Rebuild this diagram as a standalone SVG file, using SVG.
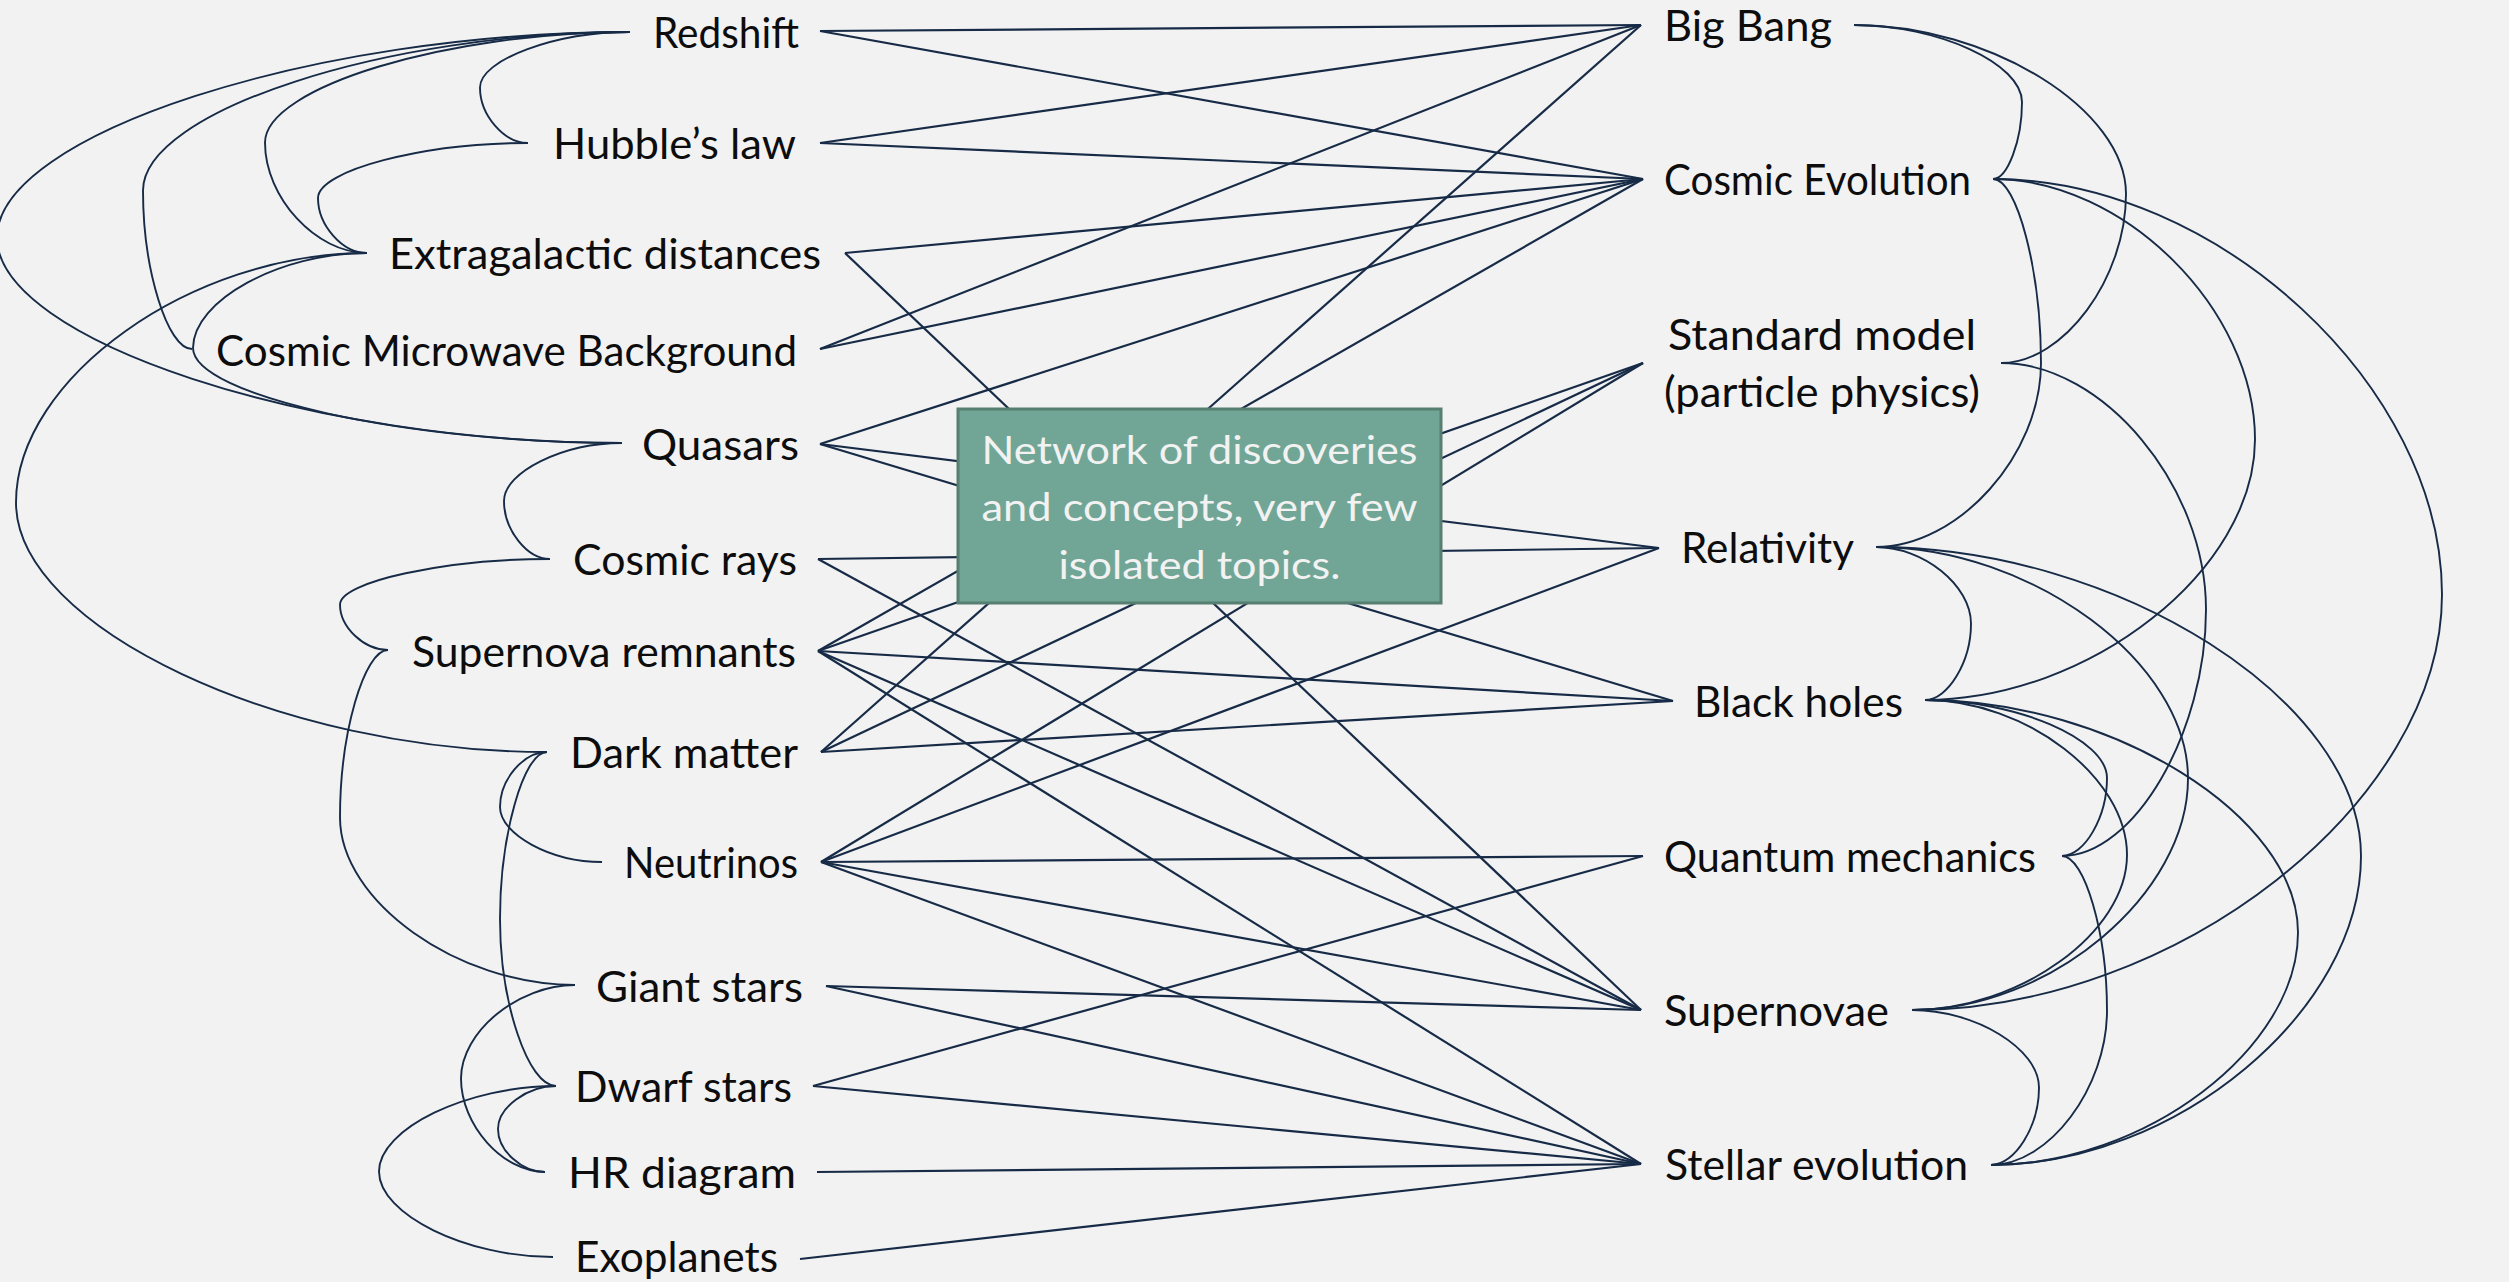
<svg xmlns="http://www.w3.org/2000/svg" width="2509" height="1282" viewBox="0 0 2509 1282">
<style>
  .bg { fill: #f2f2f2; }
  .ln { stroke: #172b47; stroke-width: 2.2; fill: none; }
  .cv { stroke: #172b47; stroke-width: 1.9; fill: none; }
  .lbl { font-family: Lato, "Liberation Sans", sans-serif; font-size: 42px; fill: #0d0d0d; }
  .box { fill: #71a696; stroke: #567f71; stroke-width: 3; }
  .boxt { font-family: Lato, "Liberation Sans", sans-serif; font-size: 39px; fill: #f2f2f2; text-anchor: middle; }
</style>
<rect class="bg" x="0" y="0" width="2509" height="1282"/>

<g id="connectors">
  <!-- straight lines -->
  <line class="ln" x1="820" y1="31" x2="1641" y2="25"/>
  <line class="ln" x1="820" y1="31" x2="1643" y2="179"/>
  <line class="ln" x1="820" y1="143" x2="1641" y2="25"/>
  <line class="ln" x1="820" y1="143" x2="1643" y2="179"/>
  <line class="ln" x1="845" y1="253" x2="1643" y2="179"/>
  <line class="ln" x1="845" y1="253" x2="1641" y2="1010"/>
  <line class="ln" x1="820" y1="349" x2="1641" y2="25"/>
  <line class="ln" x1="820" y1="349" x2="1643" y2="179"/>
  <line class="ln" x1="820" y1="444" x2="1643" y2="179"/>
  <line class="ln" x1="820" y1="444" x2="1659" y2="548"/>
  <line class="ln" x1="820" y1="444" x2="1673" y2="701"/>
  <line class="ln" x1="818" y1="559" x2="1659" y2="548"/>
  <line class="ln" x1="818" y1="559" x2="1641" y2="1010"/>
  <line class="ln" x1="818" y1="651" x2="1643" y2="179"/>
  <line class="ln" x1="818" y1="651" x2="1643" y2="363"/>
  <line class="ln" x1="818" y1="651" x2="1673" y2="701"/>
  <line class="ln" x1="818" y1="651" x2="1641" y2="1010"/>
  <line class="ln" x1="818" y1="651" x2="1641" y2="1164"/>
  <line class="ln" x1="821" y1="752" x2="1641" y2="25"/>
  <line class="ln" x1="821" y1="752" x2="1643" y2="363"/>
  <line class="ln" x1="821" y1="752" x2="1673" y2="701"/>
  <line class="ln" x1="821" y1="862" x2="1643" y2="363"/>
  <line class="ln" x1="821" y1="862" x2="1659" y2="548"/>
  <line class="ln" x1="821" y1="862" x2="1643" y2="856"/>
  <line class="ln" x1="821" y1="862" x2="1641" y2="1010"/>
  <line class="ln" x1="821" y1="862" x2="1641" y2="1164"/>
  <line class="ln" x1="826" y1="986" x2="1641" y2="1010"/>
  <line class="ln" x1="826" y1="986" x2="1641" y2="1164"/>
  <line class="ln" x1="813" y1="1086" x2="1643" y2="856"/>
  <line class="ln" x1="813" y1="1086" x2="1641" y2="1164"/>
  <line class="ln" x1="817" y1="1172" x2="1641" y2="1164"/>
  <line class="ln" x1="800" y1="1259" x2="1641" y2="1164"/>
  <!-- left curves -->
  <path class="cv" d="M630,32 C555,32 480,59.75 480,87.5 C480,115.25 504,143 528,143"/>
  <path class="cv" d="M630,32 C447.5,32 265,87.25 265,142.5 C265,197.75 316,253 367,253"/>
  <path class="cv" d="M630,32 C386.5,32 143,111.25 143,190.5 C143,269.75 167.5,349 192,349"/>
  <path class="cv" d="M630,32 C313.5,32 -3,134.75 -3,237.5 C-3,340.25 309.5,443 622,443"/>
  <path class="cv" d="M528,143 C423,143 318,170.5 318,198 C318,225.5 342.5,253 367,253"/>
  <path class="cv" d="M367,253 C280,253 193,300.5 193,348 C193,395.5 407.5,443 622,443"/>
  <path class="cv" d="M367,253 C191.5,253 16,377.75 16,502.5 C16,627.25 281.5,752 547,752"/>
  <path class="cv" d="M622,443 C563,443 504,472 504,501 C504,530 527,559 550,559"/>
  <path class="cv" d="M550,559 C445,559 340,581.75 340,604.5 C340,627.25 364,650 388,650"/>
  <path class="cv" d="M388,650 C364,650 340,733.75 340,817.5 C340,901.25 457.5,985 575,985"/>
  <path class="cv" d="M547,752 C523.5,752 500,779.5 500,807 C500,834.5 551,862 602,862"/>
  <path class="cv" d="M547,752 C523.5,752 500,835.5 500,919 C500,1002.5 528,1086 556,1086"/>
  <path class="cv" d="M575,985 C518,985 461,1031.75 461,1078.5 C461,1125.25 503,1172 545,1172"/>
  <path class="cv" d="M556,1086 C527,1086 498,1107.5 498,1129 C498,1150.5 521.5,1172 545,1172"/>
  <path class="cv" d="M556,1086 C467.5,1086 379,1128.75 379,1171.5 C379,1214.25 466,1257 553,1257"/>
  <!-- right curves -->
  <path class="cv" d="M1854,25 C1938,25 2022,63.5 2022,102 C2022,140.5 2007.5,179 1993,179"/>
  <path class="cv" d="M1854,25 C1990,25 2126,109.5 2126,194 C2126,278.5 2063.5,363 2001,363"/>
  <path class="cv" d="M1993,179 C2017,179 2041,271 2041,363 C2041,455 1958.5,547 1876,547"/>
  <path class="cv" d="M1993,179 C2124,179 2255,309.25 2255,439.5 C2255,569.75 2090,700 1925,700"/>
  <path class="cv" d="M1993,179 C2217.5,179 2442,386.75 2442,594.5 C2442,802.25 2177,1010 1912,1010"/>
  <path class="cv" d="M2001,363 C2103.5,363 2206,486.25 2206,609.5 C2206,732.75 2134,856 2062,856"/>
  <path class="cv" d="M1876,547 C1923.5,547 1971,585.25 1971,623.5 C1971,661.75 1948,700 1925,700"/>
  <path class="cv" d="M1876,547 C2032,547 2188,662.75 2188,778.5 C2188,894.25 2050,1010 1912,1010"/>
  <path class="cv" d="M1876,547 C2118.5,547 2361,701.5 2361,856 C2361,1010.5 2176,1165 1991,1165"/>
  <path class="cv" d="M1925,700 C2016,700 2107,739 2107,778 C2107,817 2084.5,856 2062,856"/>
  <path class="cv" d="M1925,700 C2026,700 2127,777.5 2127,855 C2127,932.5 2019.5,1010 1912,1010"/>
  <path class="cv" d="M1925,700 C2111.5,700 2298,816.25 2298,932.5 C2298,1048.75 2144.5,1165 1991,1165"/>
  <path class="cv" d="M2062,856 C2084.5,856 2107,933.25 2107,1010.5 C2107,1087.75 2049,1165 1991,1165"/>
  <path class="cv" d="M1912,1010 C1975.5,1010 2039,1048.75 2039,1087.5 C2039,1126.25 2015,1165 1991,1165"/>
</g>

<g id="node-redshift"><text class="lbl" x="653" y="48" textLength="146" lengthAdjust="spacingAndGlyphs">Redshift</text></g>
<g id="node-hubble"><text class="lbl" x="553" y="159" textLength="243" lengthAdjust="spacingAndGlyphs">Hubble’s law</text></g>
<g id="node-extragalactic"><text class="lbl" x="389" y="269" textLength="432" lengthAdjust="spacingAndGlyphs">Extragalactic distances</text></g>
<g id="node-cmb"><text class="lbl" x="216" y="366" textLength="581" lengthAdjust="spacingAndGlyphs">Cosmic Microwave Background</text></g>
<g id="node-quasars"><text class="lbl" x="642" y="460" textLength="157" lengthAdjust="spacingAndGlyphs">Quasars</text></g>
<g id="node-cosmic-rays"><text class="lbl" x="573" y="575" textLength="224" lengthAdjust="spacingAndGlyphs">Cosmic rays</text></g>
<g id="node-sn-remnants"><text class="lbl" x="412" y="667" textLength="384" lengthAdjust="spacingAndGlyphs">Supernova remnants</text></g>
<g id="node-dark-matter"><text class="lbl" x="570" y="768" textLength="228" lengthAdjust="spacingAndGlyphs">Dark matter</text></g>
<g id="node-neutrinos"><text class="lbl" x="624" y="878" textLength="174" lengthAdjust="spacingAndGlyphs">Neutrinos</text></g>
<g id="node-giant-stars"><text class="lbl" x="596" y="1002" textLength="207" lengthAdjust="spacingAndGlyphs">Giant stars</text></g>
<g id="node-dwarf-stars"><text class="lbl" x="575" y="1102" textLength="217" lengthAdjust="spacingAndGlyphs">Dwarf stars</text></g>
<g id="node-hr-diagram"><text class="lbl" x="568" y="1188" textLength="228" lengthAdjust="spacingAndGlyphs">HR diagram</text></g>
<g id="node-exoplanets"><text class="lbl" x="575" y="1272" textLength="203" lengthAdjust="spacingAndGlyphs">Exoplanets</text></g>

<g id="node-big-bang"><text class="lbl" x="1664" y="41" textLength="168" lengthAdjust="spacingAndGlyphs">Big Bang</text></g>
<g id="node-cosmic-evolution"><text class="lbl" x="1664" y="195" textLength="307" lengthAdjust="spacingAndGlyphs">Cosmic Evolution</text></g>
<g id="node-standard-model"><text class="lbl" x="1668" y="350" textLength="308" lengthAdjust="spacingAndGlyphs">Standard model</text><text class="lbl" x="1664" y="407" textLength="316" lengthAdjust="spacingAndGlyphs">(particle physics)</text></g>
<g id="node-relativity"><text class="lbl" x="1681" y="563" textLength="173" lengthAdjust="spacingAndGlyphs">Relativity</text></g>
<g id="node-black-holes"><text class="lbl" x="1694" y="717" textLength="209" lengthAdjust="spacingAndGlyphs">Black holes</text></g>
<g id="node-quantum"><text class="lbl" x="1664" y="872" textLength="372" lengthAdjust="spacingAndGlyphs">Quantum mechanics</text></g>
<g id="node-supernovae"><text class="lbl" x="1664" y="1026" textLength="225" lengthAdjust="spacingAndGlyphs">Supernovae</text></g>
<g id="node-stellar-evolution"><text class="lbl" x="1665" y="1180" textLength="303" lengthAdjust="spacingAndGlyphs">Stellar evolution</text></g>

<g id="node-caption">
  <rect class="box" x="958" y="409" width="483" height="194"/>
  <text class="boxt" x="1199.5" y="464" textLength="436" lengthAdjust="spacingAndGlyphs">Network of discoveries</text>
  <text class="boxt" x="1199.5" y="521" textLength="436" lengthAdjust="spacingAndGlyphs">and concepts, very few</text>
  <text class="boxt" x="1199.5" y="579" textLength="282" lengthAdjust="spacingAndGlyphs">isolated topics.</text>
</g>
</svg>
